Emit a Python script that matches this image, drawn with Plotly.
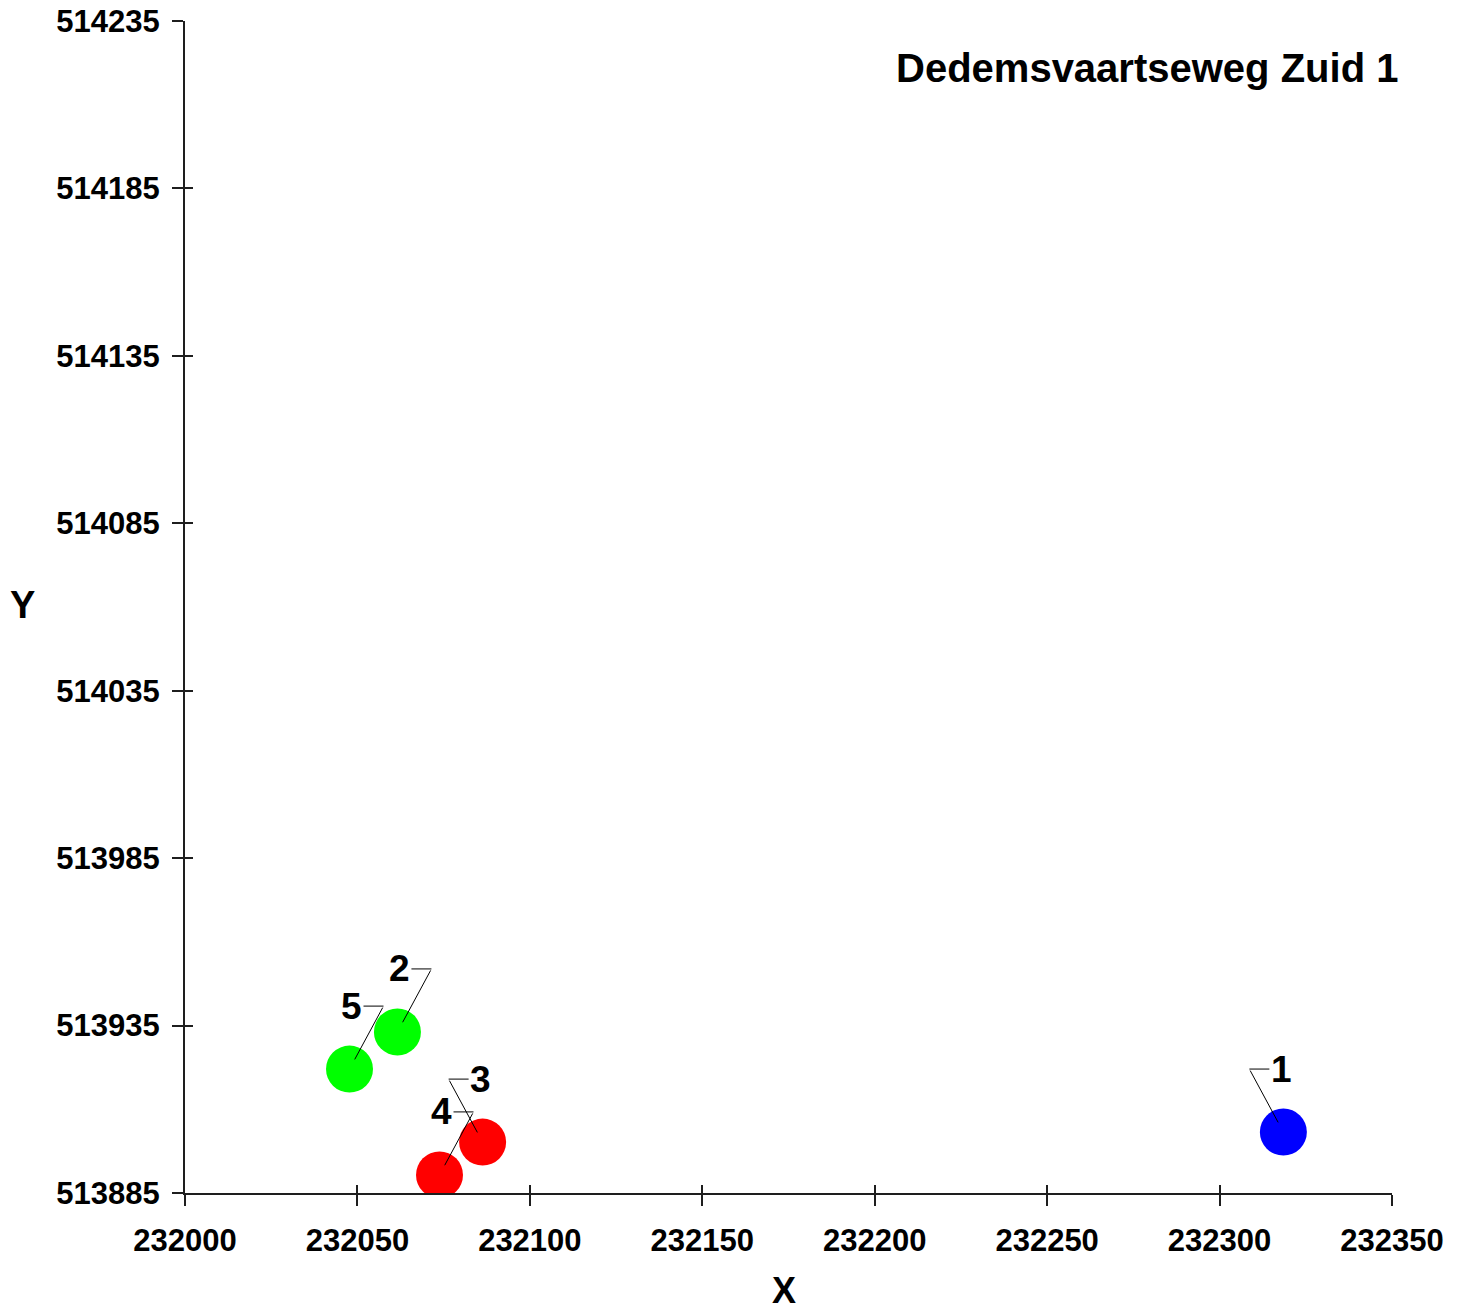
import plotly.graph_objects as go

# ---- data ----
labels = ["1", "2", "3", "4", "5"]
x_vals = [232318.5, 232061.6, 232086.3, 232073.8, 232047.7]
y_vals = [513903.2, 513933.1, 513900.2, 513890.4, 513922.0]
colors = ["#0000FF", "#00FF00", "#FF0000", "#FF0000", "#00FF00"]
label_side = [-1, 1, -1, 1, 1]   # direction of the leader line (left/right)
x_range = [232000, 232350]
y_range = [513885, 514235]
tick_step = 50
title_text = "Dedemsvaartseweg Zuid 1"

FONT = "Liberation Sans, Arial, sans-serif"
AXC = "#1e1e1e"

fig = go.Figure()
fig.add_trace(go.Scatter(
    x=x_vals, y=y_vals, mode="markers",
    marker=dict(size=47, color=colors, line=dict(width=0)),
    hoverinfo="skip", showlegend=False,
))
# invisible trace so overlay axes (inside ticks) render
fig.add_trace(go.Scatter(
    x=x_vals, y=y_vals, mode="markers", xaxis="x2", yaxis="y2",
    marker=dict(size=1, opacity=0), hoverinfo="skip", showlegend=False,
))

annotations = []
for lab, xv, yv, s in zip(labels, x_vals, y_vals, label_side):
    # diagonal leader line
    annotations.append(dict(
        x=xv, y=yv, xref="x", yref="y", text="", showarrow=True,
        arrowhead=0, arrowwidth=1, arrowcolor="black",
        ax=s * 34, ay=-63, standoff=11,
    ))
    # label with horizontal hook
    annotations.append(dict(
        x=xv, y=yv, xref="x", yref="y", text=lab, showarrow=True,
        xshift=s * 34, yshift=63,
        arrowhead=0, arrowwidth=1, arrowcolor="black",
        ax=-s * 32, ay=0, standoff=0,
        font=dict(family=FONT, size=37, color="black", weight="bold"),
    ))

annotations += [
    dict(text=title_text, xref="paper", yref="paper", x=1.0066, y=0.96,
         xanchor="right", yanchor="middle", showarrow=False,
         font=dict(family=FONT, size=40, color="black", weight="bold")),
    dict(text="X", xref="paper", yref="paper", x=0.4965, y=-0.1012,
         xanchor="center", yanchor="bottom", showarrow=False, borderpad=0,
         font=dict(family=FONT, size=36, color="black", weight="bold")),
    dict(text="Y", xref="paper", yref="paper", x=-0.135, y=0.5017,
         xanchor="center", yanchor="middle", showarrow=False,
         font=dict(family=FONT, size=38, color="black", weight="bold")),
]

tickfont = dict(family=FONT, size=31, color="black", weight="bold")

fig.update_layout(
    width=1456, height=1304,
    margin=dict(l=176.5, r=72, t=13, b=119, autoexpand=False),
    paper_bgcolor="white", plot_bgcolor="white",
    showlegend=False,
    annotations=annotations,
    xaxis=dict(range=x_range, tick0=x_range[0], dtick=tick_step,
               tickformat="d", automargin=False, ticklabeloverflow="allow",
               showgrid=False, zeroline=False, showline=True,
               linecolor=AXC, linewidth=2, ticks="outside", ticklen=11,
               tickwidth=2, tickcolor=AXC, tickfont=tickfont,
               ticklabelstandoff=8, fixedrange=True),
    yaxis=dict(range=y_range, tick0=y_range[0], dtick=tick_step,
               tickformat="d", automargin=False, ticklabeloverflow="allow",
               showgrid=False, zeroline=False, showline=True,
               linecolor=AXC, linewidth=2, ticks="outside", ticklen=11,
               tickwidth=2, tickcolor=AXC, tickfont=tickfont,
               ticklabelstandoff=6, fixedrange=True),
    xaxis2=dict(range=x_range, tick0=x_range[0], dtick=tick_step,
                overlaying="x", side="bottom", anchor="y", automargin=False,
                showgrid=False, zeroline=False, showline=False,
                ticks="inside", ticklen=8, tickwidth=2, tickcolor=AXC,
                showticklabels=False, fixedrange=True),
    yaxis2=dict(range=y_range, tick0=y_range[0], dtick=tick_step,
                overlaying="y", side="left", anchor="x", automargin=False,
                showgrid=False, zeroline=False, showline=False,
                ticks="inside", ticklen=8, tickwidth=2, tickcolor=AXC,
                showticklabels=False, fixedrange=True),
)

fig.write_html("out.html")
